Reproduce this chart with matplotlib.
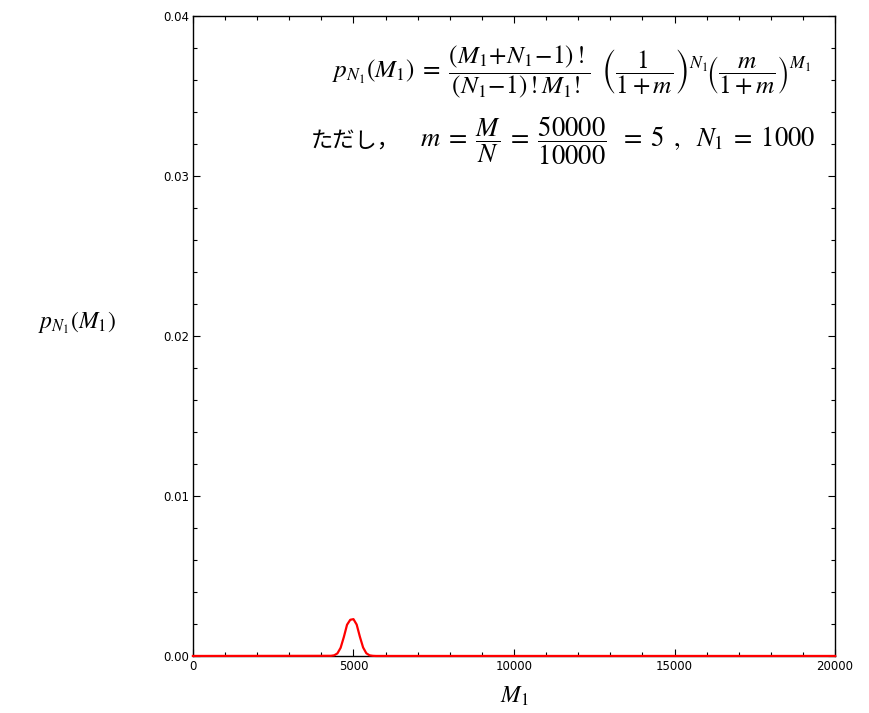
import matplotlib
matplotlib.use("Agg")
import matplotlib.pyplot as plt
from matplotlib.ticker import MultipleLocator, FormatStrFormatter

plt.rcParams["mathtext.fontset"] = "stix"

# Curve (M1, p)
m1_values = [0, 4300, 4400, 4500, 4600, 4700, 4800, 4900, 5000,
             5100, 5200, 5300, 5400, 5500, 5600, 5700, 20000]
p_values = [0.0, 0.00001, 0.00004, 0.00016, 0.00051, 0.00118, 0.00195, 0.00226, 0.0023,
            0.00196, 0.0012, 0.00053, 0.00017, 0.00004, 0.00001, 0.0, 0.0]

x_major = 5000
x_minor = 1000
y_major = 0.01
y_minor = 0.002

fig = plt.figure(figsize=(8.69, 7.13), dpi=100)
ax = fig.add_axes([0.222, 0.080, 0.739, 0.898])

ax.plot(m1_values, p_values, color="red", linewidth=1.6, clip_on=False, zorder=3)

ax.set_xlim(0, 20000)
ax.set_ylim(0, 0.04)
ax.xaxis.set_major_locator(MultipleLocator(x_major))
ax.xaxis.set_minor_locator(MultipleLocator(x_minor))
ax.yaxis.set_major_locator(MultipleLocator(y_major))
ax.yaxis.set_minor_locator(MultipleLocator(y_minor))
ax.yaxis.set_major_formatter(FormatStrFormatter("%.2f"))
ax.xaxis.set_major_formatter(FormatStrFormatter("%d"))
ax.tick_params(which="both", direction="in", top=True, right=True,
               labelsize=8.5, width=0.8)
ax.tick_params(which="major", length=5, pad=3)
ax.tick_params(which="minor", length=3)
for s in ax.spines.values():
    s.set_linewidth(1.0)

ax.set_xlabel("$M_1$", fontsize=17, labelpad=8)
ax.set_ylabel("$p_{N_1}(M_1)$", fontsize=17, rotation=0, labelpad=0)
ax.yaxis.set_label_coords(-0.18, 0.5)

formula = (r"$p_{N_1}(M_1)\;=\;\dfrac{(M_1\!+\!N_1\!-\!1)\,!}{(N_1\!-\!1)\,!M_1!}\;\;"
           r"\left(\dfrac{1}{1+m}\right)^{N_1}\!\left(\dfrac{m}{1+m}\right)^{M_1}$")
fig.text(0.933, 0.899, formula, fontsize=18.2, ha="right", va="center")

fig.text(0.358, 0.803, "ただし，", fontsize=16, ha="left", va="center",
         family=["Noto Sans CJK JP", "DejaVu Sans"])
second = r"$m\;=\;\dfrac{M}{N}\;=\;\dfrac{50000}{10000}\ \;=\;5\ \,,\ \;N_1\;=\;1000$"
fig.text(0.938, 0.803, second, fontsize=19.2, ha="right", va="center")

fig.savefig("out.png", dpi=100)
